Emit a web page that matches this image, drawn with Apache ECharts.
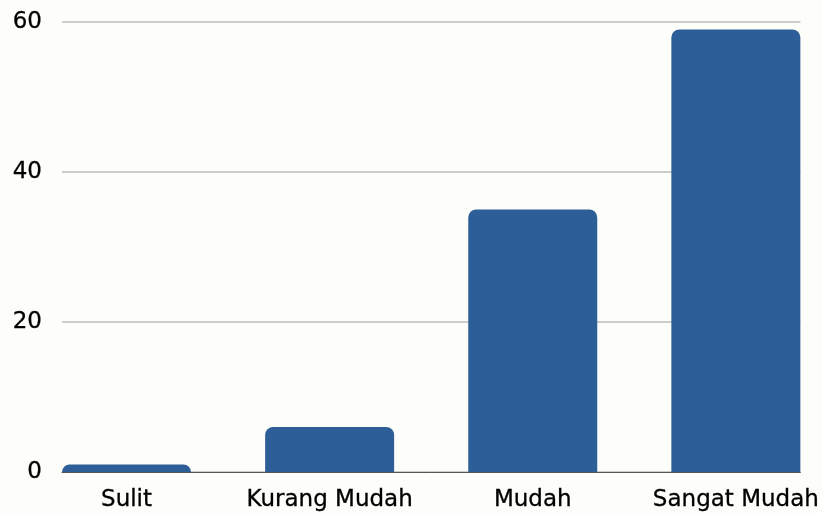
<!DOCTYPE html>
<html>
<head>
<meta charset="utf-8">
<script src="https://cdn.jsdelivr.net/npm/echarts@6/dist/echarts.min.js"></script>
<style>
  html, body { margin: 0; padding: 0; background: #fdfef9; }
  #chart { width: 822px; height: 514px; }
</style>
</head>
<body>
<div id="chart"></div>
<script>
const categories = ['Sulit', 'Kurang Mudah', 'Mudah', 'Sangat Mudah'];
const values = [1, 6, 35, 59];
const yTicks = { min: 0, max: 60, interval: 20 };

const chart = echarts.init(document.getElementById('chart'));
const font = '"DejaVu Sans", sans-serif';

// bars sit on a value x axis (0..3) so the outer bars touch the ends of the gridlines
const pad = 0.3177;
const barData = values.map((v, i) => [i, v]);

const option = {
  backgroundColor: '#fdfef9',
  grid: { left: 62, width: 739, top: 22, height: 450 },
  xAxis: {
    type: 'value', min: -pad, max: categories.length - 1 + pad,
    axisLine: { onZero: false, lineStyle: { color: '#555555', width: 1 } },
    axisTick: { show: false },
    splitLine: { show: false },
    axisLabel: {
      customValues: categories.map((c, i) => i),
      formatter: (v) => categories[Math.round(v)],
      color: '#000000', fontSize: 23, fontFamily: font, margin: 17,
      textBorderColor: '#000000', textBorderWidth: 0.3
    }
  },
  yAxis: {
    type: 'value', min: yTicks.min, max: yTicks.max, interval: yTicks.interval,
    axisLine: { show: false },
    axisTick: { show: false },
    axisLabel: {
      color: '#000000', fontSize: 23, fontFamily: font, margin: 20,
      textBorderColor: '#000000', textBorderWidth: 0.3
    },
    splitLine: { lineStyle: { color: '#bbbbbb', width: 1.5 } }
  },
  series: [
    {
      type: 'bar',
      data: barData,
      barWidth: 129,
      itemStyle: { color: '#2e5e97', borderRadius: [8, 8, 0, 0] },
      z: 3
    }
  ]
};

chart.setOption(option);
</script>
</body>
</html>
